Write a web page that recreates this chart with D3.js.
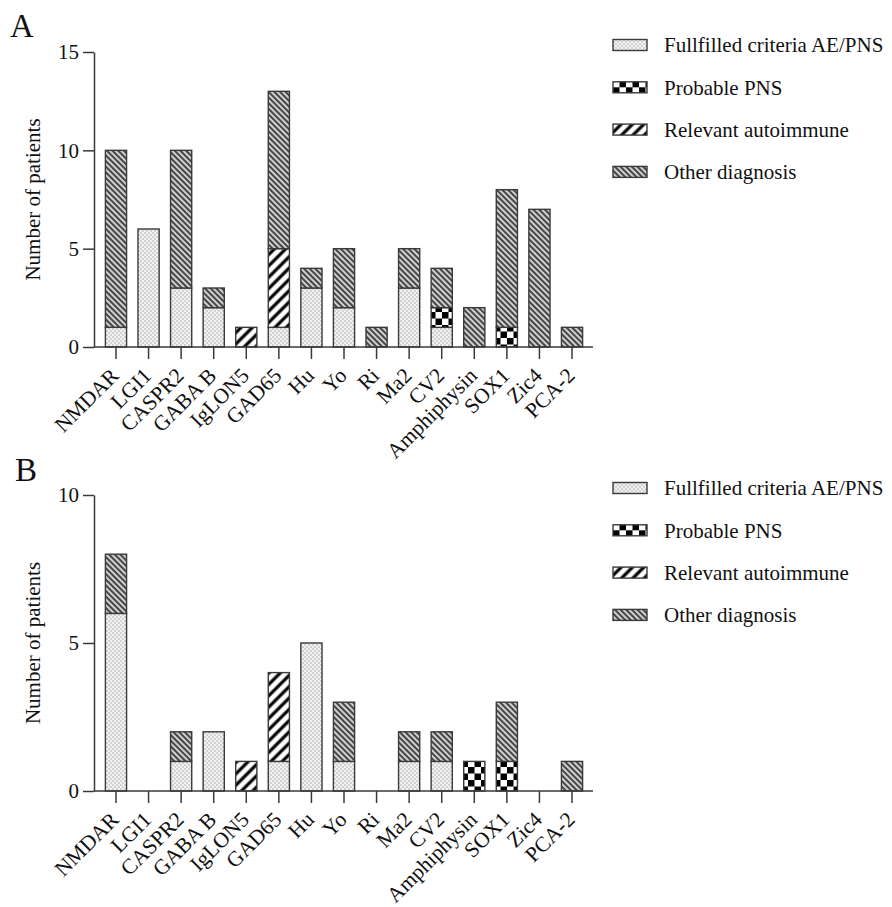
<!DOCTYPE html>
<html>
<head>
<meta charset="utf-8">
<script src="https://cdn.jsdelivr.net/npm/d3@7"></script>
<style>
  body { margin: 0; background: #fff; }
  svg text { font-family: "Liberation Serif", serif; }
</style>
</head>
<body>
<div id="chart"></div>
<script>
// categories (same order in both panels)
var categories = ["NMDAR", "LGI1", "CASPR2", "GABA B", "IgLON5", "GAD65", "Hu", "Yo", "Ri",
                  "Ma2", "CV2", "Amphiphysin", "SOX1", "Zic4", "PCA-2"];

// panel A
var aFulfilled = [1, 6, 3, 2, 0, 1, 3, 2, 0, 3, 1, 0, 0, 0, 0];
var aProbable  = [0, 0, 0, 0, 0, 0, 0, 0, 0, 0, 1, 0, 1, 0, 0];
var aRelevant  = [0, 0, 0, 0, 1, 4, 0, 0, 0, 0, 0, 0, 0, 0, 0];
var aOther     = [9, 0, 7, 1, 0, 8, 1, 3, 1, 2, 2, 2, 7, 7, 1];

// panel B
var bFulfilled = [6, 0, 1, 2, 0, 1, 5, 1, 0, 1, 1, 0, 0, 0, 0];
var bProbable  = [0, 0, 0, 0, 0, 0, 0, 0, 0, 0, 0, 1, 1, 0, 0];
var bRelevant  = [0, 0, 0, 0, 1, 3, 0, 0, 0, 0, 0, 0, 0, 0, 0];
var bOther     = [2, 0, 1, 0, 0, 0, 0, 2, 0, 1, 1, 0, 2, 0, 1];

var keys = ["fulfilled", "probable", "relevant", "other"];
var legendLabels = ["Fullfilled criteria AE/PNS", "Probable PNS", "Relevant autoimmune", "Other diagnosis"];
var aTicks = [0, 5, 10, 15];
var bTicks = [0, 5, 10];

var W = 892, H = 907;
var ink = "#3a3a3a";
var serif = "Liberation Serif";

var svg = d3.select("#chart").append("svg")
    .attr("width", W)
    .attr("height", H)
    .attr("font-family", serif);

// fill patterns
var defs = svg.append("defs");

var p1 = defs.append("pattern").attr("id", "pat-fulfilled")
    .attr("patternUnits", "userSpaceOnUse").attr("width", 4).attr("height", 4);
p1.append("rect").attr("width", 4).attr("height", 4).attr("fill", "#f2f2f2");
p1.append("circle").attr("cx", 1).attr("cy", 1).attr("r", 0.7).attr("fill", "#999");
p1.append("circle").attr("cx", 3).attr("cy", 3).attr("r", 0.7).attr("fill", "#999");

var p2 = defs.append("pattern").attr("id", "pat-probable")
    .attr("patternUnits", "userSpaceOnUse").attr("width", 13).attr("height", 13);
p2.append("rect").attr("width", 13).attr("height", 13).attr("fill", "#fff");
p2.append("rect").attr("width", 6.5).attr("height", 6.5).attr("fill", "#000");
p2.append("rect").attr("x", 6.5).attr("y", 6.5).attr("width", 6.5).attr("height", 6.5).attr("fill", "#000");

var p3 = defs.append("pattern").attr("id", "pat-relevant")
    .attr("patternUnits", "userSpaceOnUse").attr("width", 8).attr("height", 8)
    .attr("patternTransform", "rotate(45)");
p3.append("rect").attr("width", 8).attr("height", 8).attr("fill", "#fff");
p3.append("line").attr("x1", 2).attr("y1", 0).attr("x2", 2).attr("y2", 8)
    .attr("stroke", "#000").attr("stroke-width", 3.2);

var p4 = defs.append("pattern").attr("id", "pat-other")
    .attr("patternUnits", "userSpaceOnUse").attr("width", 4).attr("height", 4)
    .attr("patternTransform", "rotate(-45)");
p4.append("rect").attr("width", 4).attr("height", 4).attr("fill", "#cfcfcf");
p4.append("line").attr("x1", 1).attr("y1", 0).attr("x2", 1).attr("y2", 4)
    .attr("stroke", "#2e2e2e").attr("stroke-width", 1.7);

var fills = d3.scaleOrdinal()
    .domain(keys)
    .range(["url(#pat-fulfilled)", "url(#pat-probable)", "url(#pat-relevant)", "url(#pat-other)"]);

function drawPanel(cfg) {
    var rows = categories.map(function(c, i) {
        return { cat: c, fulfilled: cfg.fulfilled[i], probable: cfg.probable[i],
                 relevant: cfg.relevant[i], other: cfg.other[i] };
    });
    var series = d3.stack().keys(keys)(rows);

    var x = d3.scaleBand()
        .domain(categories)
        .range([99.7, 588.3])
        .paddingInner(0.35)
        .paddingOuter(0.175);

    var y = d3.scaleLinear()
        .domain([0, cfg.yMax])
        .range([cfg.bottom, cfg.top]);

    var g = svg.append("g");

    // bars
    g.selectAll("g.layer")
      .data(series)
      .enter().append("g")
        .attr("class", "layer")
        .attr("fill", function(s) { return fills(s.key); })
      .selectAll("rect")
      .data(function(s) { return s.filter(function(d) { return d[1] > d[0]; }); })
      .enter().append("rect")
        .attr("x", function(d) { return x(d.data.cat); })
        .attr("width", x.bandwidth())
        .attr("y", function(d) { return y(d[1]); })
        .attr("height", function(d) { return y(d[0]) - y(d[1]); })
        .attr("stroke", ink)
        .attr("stroke-width", 1.4);

    // y axis
    var yAxis = g.append("g")
        .attr("transform", "translate(" + cfg.axisX + ",0)")
        .call(d3.axisLeft(y).tickValues(cfg.ticks).tickSize(11).tickSizeOuter(0).tickPadding(4));
    yAxis.attr("font-family", serif);
    yAxis.selectAll("path, line").attr("stroke", ink).attr("stroke-width", 1.5);
    yAxis.selectAll("text").attr("font-size", 21).attr("fill", "#111");

    // x axis
    var xAxis = g.append("g")
        .attr("transform", "translate(0," + cfg.bottom + ")")
        .call(d3.axisBottom(x).tickSize(12).tickSizeOuter(0));
    xAxis.attr("font-family", serif);
    xAxis.select("path.domain").remove();
    xAxis.append("line")
        .attr("x1", cfg.axisX).attr("x2", 593)
        .attr("y1", 0).attr("y2", 0);
    xAxis.selectAll("line").attr("stroke", ink).attr("stroke-width", 1.5);
    xAxis.selectAll(".tick text")
        .attr("font-size", 21.5).attr("fill", "#111")
        .attr("text-anchor", "end")
        .attr("x", 0).attr("y", 0).attr("dy", 0)
        .attr("transform", "translate(4,30) rotate(-45)");

    // y title
    g.append("text")
        .attr("transform", "translate(" + 40 + "," + ((cfg.top + cfg.bottom) / 2) + ") rotate(-90)")
        .attr("text-anchor", "middle")
        .attr("font-size", 21)
        .attr("fill", "#111")
        .text("Number of patients");

    // panel letter
    g.append("text")
        .attr("x", cfg.letterX).attr("y", cfg.letterY)
        .attr("font-size", 33)
        .attr("fill", "#111")
        .text(cfg.letter);

    // legend
    var leg = g.selectAll("g.leg")
      .data(keys)
      .enter().append("g")
        .attr("class", "leg")
        .attr("transform", function(k, i) { return "translate(613," + (cfg.legendTop + i * 42.3) + ")"; });
    leg.append("rect")
        .attr("x", 0).attr("y", -5.5)
        .attr("width", 34).attr("height", 11)
        .attr("fill", function(k) { return fills(k); })
        .attr("stroke", ink).attr("stroke-width", 1.4);
    leg.append("text")
        .attr("x", 51).attr("y", 0).attr("dy", "0.35em")
        .attr("font-size", 21)
        .attr("fill", "#111")
        .text(function(k, i) { return legendLabels[i]; });
}

drawPanel({ fulfilled: aFulfilled, probable: aProbable, relevant: aRelevant, other: aOther,
            yMax: 15, ticks: aTicks, top: 52, bottom: 347, axisX: 94,
            letter: "A", letterX: 10, letterY: 37, legendTop: 45 });

drawPanel({ fulfilled: bFulfilled, probable: bProbable, relevant: bRelevant, other: bOther,
            yMax: 10, ticks: bTicks, top: 495, bottom: 791, axisX: 94,
            letter: "B", letterX: 15, letterY: 481, legendTop: 488 });
</script>
</body>
</html>
